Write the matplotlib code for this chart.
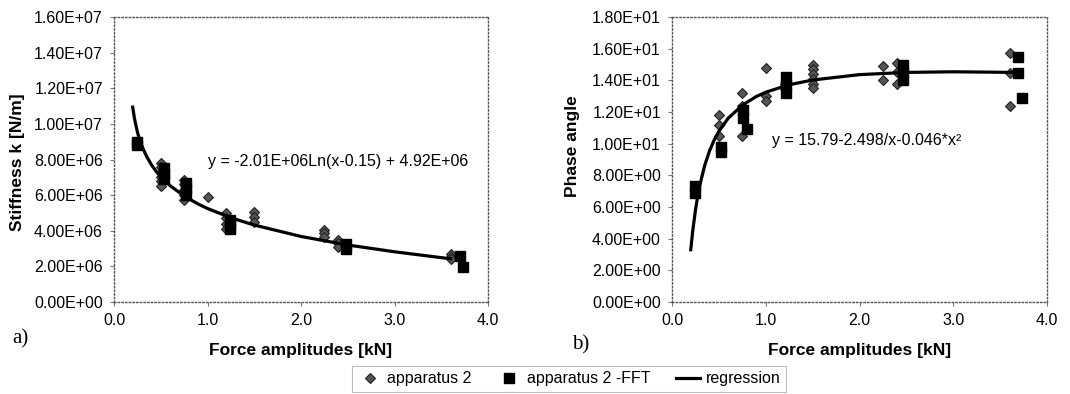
import matplotlib
matplotlib.use('Agg')
import matplotlib.pyplot as plt
from matplotlib.lines import Line2D
from matplotlib.ticker import FormatStrFormatter

plt.rcParams['font.family'] = ['Liberation Sans', 'DejaVu Sans']

# a) stiffness, values in N/m
k_dia_x = [0.5, 0.5, 0.5, 0.5, 0.5, 0.5, 0.75, 0.75, 0.75, 0.75, 0.75, 1.0,
           1.2, 1.2, 1.2, 1.2, 1.5, 1.5, 1.5, 2.25, 2.25, 2.25, 2.4, 2.4, 2.4,
           3.6, 3.6, 3.6]
k_dia_y = [7.8e6, 7.6e6, 7.3e6, 7.0e6, 6.8e6, 6.5e6, 6.85e6, 6.6e6, 6.3e6, 6.0e6, 5.7e6, 5.9e6,
           5.0e6, 4.7e6, 4.4e6, 4.1e6, 5.05e6, 4.8e6, 4.5e6, 4.05e6, 3.85e6, 3.65e6,
           3.5e6, 3.3e6, 3.1e6, 2.7e6, 2.55e6, 2.4e6]
k_sq_x = [0.25, 0.25, 0.53, 0.53, 0.53, 0.77, 0.77, 0.77, 1.24, 1.24, 1.24,
          2.48, 2.48, 3.7, 3.73]
k_sq_y = [9.0e6, 8.8e6, 7.5e6, 7.2e6, 6.9e6, 6.7e6, 6.4e6, 6.0e6, 4.6e6, 4.3e6, 4.1e6,
          3.25e6, 3.0e6, 2.6e6, 1.95e6]
k_reg_x = [0.2, 0.22, 0.25, 0.27, 0.3, 0.35, 0.4, 0.45, 0.5, 0.6, 0.75, 0.9, 1.0, 1.25,
           1.5, 2.0, 2.5, 3.0, 3.5, 3.6]
k_reg_y = [10.94e6, 10.27e6, 9.55e6, 9.18e6, 8.73e6, 8.16e6, 7.71e6, 7.34e6, 7.03e6, 6.53e6,
           5.95e6, 5.50e6, 5.25e6, 4.73e6, 4.32e6, 3.68e6, 3.20e6, 2.82e6, 2.49e6, 2.43e6]

# b) phase angle
p_dia_x = [0.5, 0.5, 0.5, 0.75, 0.75, 0.75, 1.0, 1.0, 1.0, 1.2, 1.2,
           1.5, 1.5, 1.5, 1.5, 1.5, 1.5, 2.25, 2.25, 2.4, 2.4, 2.4, 3.6, 3.6, 3.6]
p_dia_y = [11.8, 11.2, 10.5, 13.2, 12.4, 10.5, 14.8, 13.0, 12.7, 13.8, 13.5,
           15.0, 14.7, 14.4, 14.1, 13.8, 13.5, 14.9, 14.0, 15.1, 14.5, 13.8, 15.7, 14.45, 12.35]
p_sq_x = [0.25, 0.25, 0.52, 0.52, 0.76, 0.76, 0.8, 1.22, 1.22, 1.22,
          2.46, 2.46, 2.46, 3.69, 3.69, 3.73]
p_sq_y = [7.3, 6.9, 9.8, 9.5, 12.1, 11.6, 10.9, 14.2, 13.7, 13.2,
          15.0, 14.5, 14.0, 15.45, 14.45, 12.9]
p_reg_x = [0.2, 0.22, 0.25, 0.27, 0.3, 0.35, 0.4, 0.45, 0.5, 0.6, 0.75, 0.9, 1.0, 1.25,
           1.5, 2.0, 2.5, 3.0, 3.5, 3.7]
p_reg_y = [3.30, 4.43, 5.80, 6.53, 7.46, 8.65, 9.54, 10.23, 10.78, 11.61, 12.43, 12.98,
           13.25, 13.72, 14.02, 14.36, 14.50, 14.54, 14.51, 14.49]

x_ticks = [0.0, 1.0, 2.0, 3.0, 4.0]
k_ticks = [0, 2e6, 4e6, 6e6, 8e6, 10e6, 12e6, 14e6, 16e6]
p_ticks = [0, 2, 4, 6, 8, 10, 12, 14, 16, 18]

fig = plt.figure(figsize=(10.7, 3.94), dpi=100)
ax1 = fig.add_axes([114 / 1070, 92 / 394, 374 / 1070, 285 / 394])
ax2 = fig.add_axes([672 / 1070, 92 / 394, 375 / 1070, 285 / 394])

dia_style = dict(linestyle='none', marker='D', markersize=5.5,
                 markerfacecolor='#555555', markeredgecolor='#222222', markeredgewidth=0.8)
sq_style = dict(linestyle='none', marker='s', markersize=7,
                markerfacecolor='black', markeredgecolor='black')

for ax, dx, dy, sx, sy, rx, ry, ticks in [
        (ax1, k_dia_x, k_dia_y, k_sq_x, k_sq_y, k_reg_x, k_reg_y, k_ticks),
        (ax2, p_dia_x, p_dia_y, p_sq_x, p_sq_y, p_reg_x, p_reg_y, p_ticks)]:
    ax.plot(dx, dy, **dia_style)
    ax.plot(sx, sy, **sq_style)
    ax.plot(rx, ry, color='black', linewidth=2.3, solid_joinstyle='round')
    ax.set_xlim(0, 4)
    ax.set_ylim(ticks[0], ticks[-1])
    ax.set_xticks(x_ticks)
    ax.set_yticks(ticks)
    ax.xaxis.set_major_formatter(FormatStrFormatter('%.1f'))
    ax.yaxis.set_major_formatter(FormatStrFormatter('%.2E'))
    ax.tick_params(labelsize=11.5, length=3, width=0.8, color='#777777', pad=5)
    for s in ax.spines.values():
        s.set_linestyle(':')
        s.set_color('#555555')
        s.set_linewidth(1.0)

ax1.text(1.0, 7.9e6, 'y = -2.01E+06Ln(x-0.15) + 4.92E+06', fontsize=11.5, va='center')
ax2.text(1.07, 10.2, 'y = 15.79-2.498/x-0.046*x²', fontsize=11.5, va='center')

fig.text(18 / 1070, 1 - 162 / 394, 'Stiffness k [N/m]', rotation=90, ha='center', va='center',
         fontsize=12.5, fontweight='bold')
fig.text(573 / 1070, 1 - 146 / 394, 'Phase angle', rotation=90, ha='center', va='center',
         fontsize=12.5, fontweight='bold')
fig.text(301 / 1070, 1 - 351 / 394, 'Force amplitudes [kN]', ha='center', va='center',
         fontsize=12.5, fontweight='bold')
fig.text(860 / 1070, 1 - 351 / 394, 'Force amplitudes [kN]', ha='center', va='center',
         fontsize=12.5, fontweight='bold')
fig.text(20 / 1070, 1 - 339 / 394, 'a)', ha='center', va='center', fontsize=15,
         family='Liberation Serif')
fig.text(581 / 1070, 1 - 345 / 394, 'b)', ha='center', va='center', fontsize=15,
         family='Liberation Serif')

handles = [Line2D([], [], **dict(dia_style, markersize=5)),
           Line2D([], [], **dict(sq_style, markersize=6.5)),
           Line2D([], [], color='black', linewidth=2.3)]
leg = fig.legend(handles, ['apparatus 2', 'apparatus 2 -FFT', 'regression'],
                 loc='center', bbox_to_anchor=(569 / 1070, 1 - 379 / 394), ncol=3,
                 fontsize=11.5, frameon=True, fancybox=False, handlelength=1.5,
                 columnspacing=1.6, handletextpad=0.35, borderpad=0.35)
leg.get_frame().set_edgecolor('#aaaaaa')
leg.get_frame().set_linewidth(0.8)

fig.savefig('out.png', dpi=100)
